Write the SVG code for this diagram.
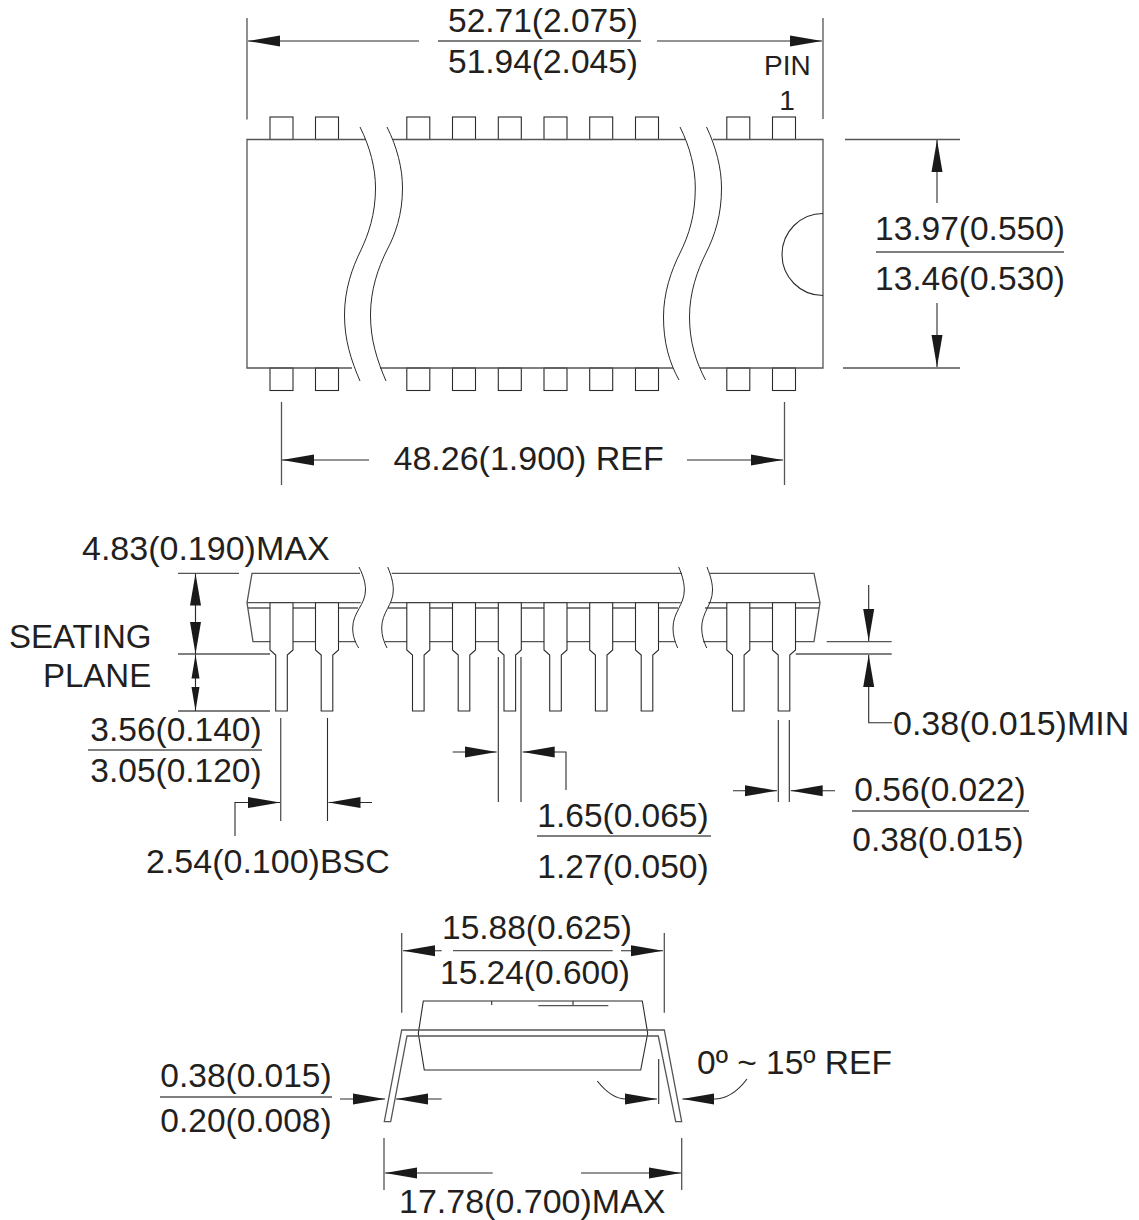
<svg xmlns="http://www.w3.org/2000/svg" width="1139" height="1220" viewBox="0 0 1139 1220">
<style>
text{font-family:"Liberation Sans",Arial,sans-serif;font-size:33.500px;fill:#231f20}
.m{text-anchor:middle}
.n{font-size:33px}
.l{font-size:34px}
path,rect{fill:none;stroke:#2b2b2b;stroke-width:1.1}
.g{stroke:#555;stroke-width:1.3}
.w{fill:#fff}
.a{marker-end:url(#arrow)}
.s{marker-end:url(#arrowS)}
.c{stroke-width:1}
</style>
<defs>
<marker id="arrow" markerUnits="userSpaceOnUse" markerWidth="34" markerHeight="13" refX="32" refY="6" orient="auto"><polygon points="0,0.5 32,6 0,11.500" fill="#1a1a1a"/></marker>
<marker id="arrowS" markerUnits="userSpaceOnUse" markerWidth="26" markerHeight="11" refX="24" refY="5" orient="auto"><polygon points="0,1 24,5 0,9" fill="#1a1a1a"/></marker>
<rect id="tp" x="0" y="0" width="23" height="22.500" class="w"/>
<path id="lead" class="w" d="M0,602.700V650L5.700,655V711H17.300V655L23,650V602.700Z"/>
</defs>

<g id="top-view">
<g id="top-pins">
<use href="#tp" x="270" y="117"/><use href="#tp" x="315.500" y="117"/><use href="#tp" x="406.800" y="117"/><use href="#tp" x="452.500" y="117"/><use href="#tp" x="498.300" y="117"/><use href="#tp" x="544" y="117"/><use href="#tp" x="589.700" y="117"/><use href="#tp" x="635.500" y="117"/><use href="#tp" x="726.800" y="117"/><use href="#tp" x="772.500" y="117"/>
<use href="#tp" x="270" y="368"/><use href="#tp" x="315.500" y="368"/><use href="#tp" x="406.800" y="368"/><use href="#tp" x="452.500" y="368"/><use href="#tp" x="498.300" y="368"/><use href="#tp" x="544" y="368"/><use href="#tp" x="589.700" y="368"/><use href="#tp" x="635.500" y="368"/><use href="#tp" x="726.800" y="368"/><use href="#tp" x="772.500" y="368"/>
</g>
<path id="top-body" class="g" d="M366,139.500H247V368H352M393,139.500H685M713,139.500H823V368H700M673,368H380"/>
<path class="c" d="M360,127C370,147 375.500,168 375.500,188C375.500,215 368,235 361,250C352,268 344.500,290 344.500,315C344.500,340 351,360 360,381"/>
<path class="c" d="M387,127C397,147 402.500,168 402.500,188C402.500,215 395,235 387,250C378,268 370.500,290 370.500,315C370.500,340 377,360 386,381"/>
<path class="c" d="M680,127C690,147 695.300,168 695.300,188C695.300,215 689,235 680,253C671,271 663.500,293 663.500,317C663.500,342 669,362 679,380"/>
<path class="c" d="M706.500,127C716,147 721.500,168 721.500,188C721.500,215 715,235 706,253C697,271 689.500,293 689.500,317C689.500,342 696,362 705.500,380"/>
<path id="notch" d="M823,213.500A41,41 0 0 0 823,295.500"/>
</g>

<g id="side-view">
<path class="g" d="M360,573.300H252L247,602.700L253,641.700H356M391.700,573.300H681.700M710,573.300H814L820,602.700L814,641.700H703M675,641.700H385"/>
<path class="g" d="M247,602.700H360.700M390.700,602.700H680.700M708.300,602.700H820M248,608H358M388,608H678M705,608H819"/>
<path class="c" d="M359,567C364,577 365.500,584 365.500,590C365.500,605 352.700,612 352.700,628C352.700,636 355,642 358.700,648"/>
<path class="c" d="M387.700,567C392,577 393.300,584 393.300,590C393.300,605 381.700,612 381.700,628C381.700,636 384,642 387,648"/>
<path class="c" d="M678.700,567C683,577 684.300,584 684.300,590C684.300,605 673,612 673,628C673,636 675,642 677.700,648"/>
<path class="c" d="M707,567C711,577 712.500,584 712.500,590C712.500,605 701.700,612 701.700,628C701.700,636 704,642 706.700,648"/>
<g id="side-pins">
<use href="#lead" x="270"/><use href="#lead" x="315.500"/><use href="#lead" x="406.800"/><use href="#lead" x="452.500"/><use href="#lead" x="498.300"/><use href="#lead" x="544"/><use href="#lead" x="589.700"/><use href="#lead" x="635.500"/><use href="#lead" x="726.800"/><use href="#lead" x="772.500"/>
</g>
</g>

<g id="end-view">
<path d="M423.300,1001H642.300L647.700,1033.300L640.700,1070H424.300L418.300,1033.300Z"/>
<path d="M491.700,1001V1005M573,1001V1006"/>
<path class="g" d="M538.300,1005.700H608.300"/>
<path class="g" d="M384.300,1121.700L401.700,1030H664.300L681.700,1121.700H675.700L658.300,1036H407L390.700,1121.700Z"/>
</g>

<g id="connectors">
<path class="g" d="M247,18V119.500M823,18V119M845,139.500H960M843,368H960M281.500,402V485M784.500,402V485"/>
<path class="a" d="M419,41H248"/><path class="a" d="M657,41H822"/>
<path class="g" d="M438,41H641M876,252H1064"/>
<path class="a" d="M937,203V140"/><path class="a" d="M937,303V367"/>
<path class="a" d="M369,460H282"/><path class="a" d="M687,460H783"/>

<path class="g" d="M178,573.300H239M178,654H270M178,711H270"/>
<path class="a" d="M195.500,620V573.500"/><path class="a" d="M195.500,605V654"/>
<path class="s" d="M195.500,686V654.500"/><path class="s" d="M195.500,678V711"/>
<path class="g" d="M88,750H262M537,836H711M852,811H1029"/>
<path class="g" d="M280.700,718V821"/><path d="M327.500,718V821"/>
<path class="a" d="M235,836V802.500H280"/><path class="a" d="M372,802.500H328.500"/>
<path d="M498.300,657V802M521,657V802"/>
<path class="a" d="M452.700,752H496.700"/><path class="a" d="M566,790V752H522.700"/>
<path d="M778.300,720V802M789.300,720V802"/>
<path class="a" d="M733,790.700H777"/><path class="a" d="M835,790.700H790.700"/>
<path class="g" d="M826.700,641.700H891.700M795.700,654H891.700"/>
<path class="a" d="M868.700,585V641"/><path class="a" d="M892,722.700H868.700V655"/>

<path class="g" d="M401.700,933V1012.700M664.300,933V1012.700M453,950.700H612.700M160,1097H332M384,1138V1190M681.700,1138V1190"/>
<path class="a" d="M441.700,950.700H403"/><path class="a" d="M621,950.700H663"/>
<path class="a" d="M340,1099H385"/><path class="a" d="M441.700,1099H396"/>
<path d="M658.700,1059V1104"/>
<path class="a" d="M597.300,1081C606,1092 616,1099 626,1099H657"/>
<path class="a" d="M747,1079C738,1091 728,1099 714,1099H682.300"/>
<path class="a" d="M492.700,1173H385"/><path class="a" d="M581,1173H681"/>
</g>

<g id="labels">
<text class="m" x="543" y="31.500">52.71(2.075)</text>
<text class="m" x="543" y="72.500">51.94(2.045)</text>
<text x="764" y="75" style="font-size:28px">PIN</text>
<text class="m" x="787" y="110" style="font-size:28px">1</text>
<text class="m" x="970" y="240">13.97(0.550)</text>
<text class="m" x="970" y="290">13.46(0.530)</text>
<text class="l" x="393.500" y="470">48.26(1.900) REF</text>
<text class="l" x="82" y="560">4.83(0.190)MAX</text>
<text class="n" x="9" y="647.500">SEATING</text>
<text class="n" x="43" y="687">PLANE</text>
<text class="m" x="176" y="741">3.56(0.140)</text>
<text class="m" x="176" y="782">3.05(0.120)</text>
<text class="l" x="146" y="873">2.54(0.100)BSC</text>
<text class="m" x="623" y="827">1.65(0.065)</text>
<text class="m" x="623" y="878">1.27(0.050)</text>
<text class="m" x="940" y="801">0.56(0.022)</text>
<text class="m" x="938" y="851">0.38(0.015)</text>
<text class="l" x="893" y="735">0.38(0.015)MIN</text>
<text class="m" x="537" y="939">15.88(0.625)</text>
<text class="m" x="535" y="984">15.24(0.600)</text>
<text class="m" x="246" y="1087">0.38(0.015)</text>
<text class="m" x="246" y="1132">0.20(0.008)</text>
<text x="697" y="1074">0º ~ 15º REF</text>
<text class="l" x="399" y="1212.500">17.78(0.700)MAX</text>
</g>
</svg>
